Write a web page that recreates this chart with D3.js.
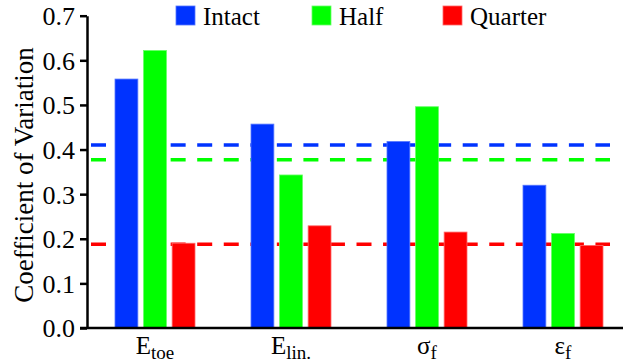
<!DOCTYPE html>
<html>
<head>
<meta charset="utf-8">
<script src="https://cdn.jsdelivr.net/npm/d3@7"></script>
</head>
<body style="margin:0;background:#fff">
<svg id="chart" width="626" height="363" style="font-family:'Liberation Serif'"></svg>
<script>
var categories = ["Etoe","Elin","sigf","epsf"]
var labelMain = ["E","E","\u03c3","\u03b5"]
var labelSub = ["toe","lin.","f","f"]
var series = ["Intact","Half","Quarter"]
var colors = ["#0033ff","#00ff00","#ff0000"]
var strokes = ["#5577ff","#66ff66","#ff6666"]
var intact = [0.558,0.457,0.418,0.320]
var half = [0.622,0.343,0.496,0.212]
var quarter = [0.190,0.229,0.215,0.185]
var means = [0.410,0.377,0.188]
var yTicks = [0,0.1,0.2,0.3,0.4,0.5,0.6,0.7]

var FONT = "Liberation Serif"
var values = [intact,half,quarter]
var svg = d3.select("#chart")

var y = d3.scaleLinear().domain([0,0.7]).range([328,15.7])
var x = d3.scaleBand().domain(categories).range([87,631]).padding(0)
var xi = d3.scaleBand().domain(series).range([-40,40]).paddingInner(0.2)

// mean lines, behind bars
svg.selectAll(".mean").data(means).enter().append("line")
	.attr("class","mean")
	.attr("x1",91).attr("x2",610)
	.attr("y1",function(d){return y(d)}).attr("y2",function(d){return y(d)})
	.attr("stroke",function(d,i){return colors[i]})
	.attr("stroke-width",3.5)
	.attr("stroke-dasharray","15,11.55")

// bars
series.forEach(function(s,j){
	svg.selectAll(".bar"+j).data(values[j]).enter().append("rect")
		.attr("class","bar"+j)
		.attr("x",function(d,i){return x(categories[i])+x.bandwidth()/2+xi(s)})
		.attr("width",xi.bandwidth())
		.attr("y",function(d){return y(d)})
		.attr("height",function(d){return y(0)-y(d)})
		.attr("fill",colors[j])
		.attr("stroke",strokes[j])
		.attr("stroke-width",0.8)
})

// y axis
var yAxis = svg.append("g").attr("transform","translate(87,0)")
	.call(d3.axisLeft(y).tickValues(yTicks).tickSize(7).tickSizeOuter(0).tickFormat(d3.format(".1f")))
yAxis.attr("font-family",FONT).attr("font-size",26)
yAxis.selectAll("path,line").attr("stroke","#000").attr("stroke-width",2.5)
yAxis.selectAll("text").attr("x",-12).attr("dy","0.34em")
	.style("font-family",FONT).style("font-size","26px").attr("fill","#000")

// x axis
var xAxis = svg.append("g").attr("transform","translate(0,328)")
	.call(d3.axisBottom(x).tickSize(0).tickFormat(""))
xAxis.attr("font-family",FONT).attr("font-size",25)
xAxis.select(".domain").remove()
xAxis.append("line").attr("x1",80).attr("x2",623).attr("y1",0).attr("y2",0)
	.attr("stroke","#000").attr("stroke-width",2.5)
xAxis.selectAll(".tick text").each(function(d,i){
	var t = d3.select(this).attr("y",26).attr("dy",0)
		.style("font-family",FONT).style("font-size","25px").attr("fill","#000")
		.attr("text-anchor","middle")
	t.append("tspan").text(labelMain[i])
	t.append("tspan").attr("dy",5).style("font-size","19px").text(labelSub[i])
})

// y title
svg.append("text")
	.attr("transform","translate(33,175) rotate(-90)")
	.attr("text-anchor","middle")
	.style("font-family",FONT)
	.style("font-size","27px")
	.text("Coefficient of Variation")

// legend
var legX = [176,312,443]
series.forEach(function(s,j){
	svg.append("rect").attr("x",legX[j]).attr("y",6).attr("width",19).attr("height",19)
		.attr("fill",colors[j]).attr("stroke",strokes[j]).attr("stroke-width",0.8)
	svg.append("text").attr("x",legX[j]+27).attr("y",24.5)
		.style("font-family",FONT)
		.style("font-size","25px").text(s)
})
</script>
</body>
</html>
